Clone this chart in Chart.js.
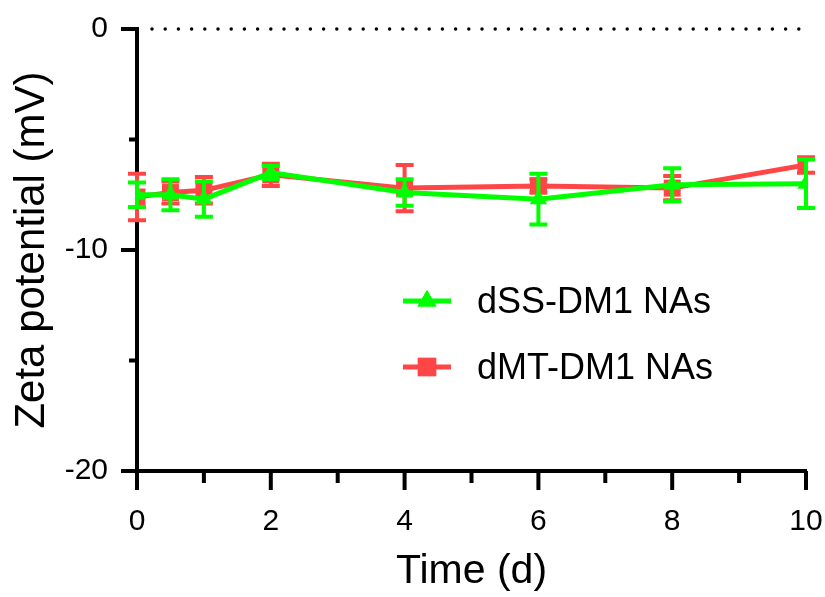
<!DOCTYPE html>
<html>
<head>
<meta charset="utf-8">
<title>Zeta potential</title>
<script src="https://cdn.jsdelivr.net/npm/chart.js@4.4.1/dist/chart.umd.min.js"></script>
<style>
  html, body { margin: 0; padding: 0; background: #fff; }
  canvas { display: block; }
</style>
</head>
<body>
<canvas id="myChart" width="825" height="597"></canvas>
<script>
// datos
const days = [0, 0.5, 1, 2, 4, 6, 8, 10];
const ssMean = [-7.5, -7.5, -7.7, -6.5, -7.4, -7.7, -7.05, -7.0];
const ssErr  = [0.55, 0.7, 0.8, 0.3, 0.6, 1.15, 0.75, 1.1];
const mtMean = [-7.6, -7.4, -7.3, -6.6, -7.2, -7.1, -7.2, -6.15];
const mtErr  = [1.05, 0.5, 0.6, 0.5, 1.05, 0.3, 0.55, 0.35];
const xMajor = [0, 2, 4, 6, 8, 10];
const xMinor = [1, 3, 5, 7, 9];
const yMajor = [0, -10, -20];
const yMinor = [-5, -15];

const FONT = "'Liberation Sans', Arial, sans-serif";
const GREEN = '#00ff00';
const RED = '#ff4646';

// barras de error, dibujadas después de cada serie
const errorBars = {
    id: 'errorBars',
    afterDatasetDraw(chart, args) {
        const ds = chart.data.datasets[args.index];
        const { ctx, scales: { x, y } } = chart;
        ctx.save();
        ctx.strokeStyle = ds.borderColor;
        ctx.lineWidth = 4;
        ds.data.forEach((p, i) => {
            const px = x.getPixelForValue(p.x);
            const top = y.getPixelForValue(p.y + ds.err[i]);
            const bot = y.getPixelForValue(p.y - ds.err[i]);
            ctx.beginPath();
            ctx.moveTo(px, top); ctx.lineTo(px, bot);
            ctx.moveTo(px - 9, top); ctx.lineTo(px + 9, top);
            ctx.moveTo(px - 9, bot); ctx.lineTo(px + 9, bot);
            ctx.stroke();
        });
        ctx.restore();
    }
};

// línea punteada en 0 y marcas de los ejes
const axisDecor = {
    id: 'axisDecor',
    beforeDatasetsDraw(chart) {
        const { ctx, scales: { x, y }, chartArea: a } = chart;
        const py = y.getPixelForValue(0);
        ctx.save();
        ctx.strokeStyle = '#000';
        ctx.lineWidth = 3.5;
        ctx.lineCap = 'round';
        ctx.setLineDash([0, 13.2]);
        ctx.beginPath();
        ctx.moveTo(x.getPixelForValue(0) + 15, py);
        ctx.lineTo(a.right - 4, py);
        ctx.stroke();
        ctx.restore();
    },
    afterDraw(chart) {
        const { ctx, scales: { x, y }, chartArea: a } = chart;
        ctx.save();
        ctx.strokeStyle = '#000';
        ctx.lineWidth = 4;
        ctx.beginPath();
        yMajor.forEach(v => { const p = y.getPixelForValue(v); ctx.moveTo(a.left - 16, p); ctx.lineTo(a.left, p); });
        yMinor.forEach(v => { const p = y.getPixelForValue(v); ctx.moveTo(a.left - 8, p); ctx.lineTo(a.left, p); });
        xMajor.forEach(v => { const p = x.getPixelForValue(v); ctx.moveTo(p, a.bottom); ctx.lineTo(p, a.bottom + 19); });
        xMinor.forEach(v => { const p = x.getPixelForValue(v); ctx.moveTo(p, a.bottom); ctx.lineTo(p, a.bottom + 12); });
        ctx.stroke();
        ctx.restore();
    }
};

// leyenda con línea + marcador
const lineLegend = {
    id: 'lineLegend',
    afterDraw(chart) {
        const ctx = chart.ctx;
        ctx.save();
        chart.data.datasets.forEach((ds, i) => {
            const yy = 301 + i * 66;
            ctx.strokeStyle = ds.borderColor;
            ctx.lineWidth = 5;
            ctx.beginPath();
            ctx.moveTo(403, yy); ctx.lineTo(451, yy);
            ctx.stroke();
            ctx.fillStyle = ds.borderColor;
            Chart.helpers.drawPoint(ctx, { pointStyle: ds.pointStyle, radius: ds.pointRadius + 1, rotation: 0, borderWidth: 0 }, 427, yy);
            ctx.fill();
            ctx.fillStyle = '#000';
            ctx.font = '36px ' + FONT;
            ctx.textBaseline = 'middle';
            ctx.fillText(ds.label, 477, yy + 2);
        });
        ctx.restore();
    }
};

const ctx = document.getElementById('myChart');

new Chart(ctx, {
    type: 'line',
    data: {
        datasets: [{
            label: 'dSS-DM1 NAs',
            data: days.map((d, i) => ({ x: d, y: ssMean[i] })),
            err: ssErr,
            borderColor: GREEN,
            backgroundColor: GREEN,
            pointBackgroundColor: GREEN,
            pointStyle: 'triangle',
            pointRadius: 10,
            pointBorderWidth: 0,
            borderWidth: 5,
            tension: 0
        }, {
            label: 'dMT-DM1 NAs',
            data: days.map((d, i) => ({ x: d, y: mtMean[i] })),
            err: mtErr,
            borderColor: RED,
            backgroundColor: RED,
            pointBackgroundColor: RED,
            pointStyle: 'rect',
            pointRadius: 12,
            pointBorderWidth: 0,
            borderWidth: 5,
            tension: 0
        }]
    },
    options: {
        responsive: false,
        animation: false,
        devicePixelRatio: 1,
        layout: { padding: { top: 29, right: 19, left: 0, bottom: 0 } },
        plugins: {
            legend: { display: false },
            tooltip: { enabled: false }
        },
        scales: {
            x: {
                type: 'linear',
                min: 0,
                max: 10,
                grid: { display: false },
                border: { display: true, color: '#000', width: 4 },
                ticks: { stepSize: 2, color: '#000', padding: 25, maxRotation: 0, font: { family: FONT, size: 30 } },
                title: { display: true, text: 'Time (d)', color: '#000', font: { family: FONT, size: 41 }, padding: { top: 0, bottom: 1 } },
                afterFit(scale) {
                    scale.height = 126;
                    scale.paddingLeft = 0;
                    scale.paddingRight = 0;
                }
            },
            y: {
                min: -20,
                max: 0,
                grid: { display: false },
                border: { display: true, color: '#000', width: 4 },
                ticks: { stepSize: 10, color: '#000', padding: 21, font: { family: FONT, size: 30 } },
                title: { display: true, text: 'Zeta potential (mV)', color: '#000', font: { family: FONT, size: 42 }, padding: { top: 7, bottom: 0 } },
                afterFit(scale) {
                    scale.width = 137;
                    scale.paddingTop = 0;
                    scale.paddingBottom = 0;
                }
            }
        }
    },
    plugins: [axisDecor, errorBars, lineLegend]
});
</script>
</body>
</html>
